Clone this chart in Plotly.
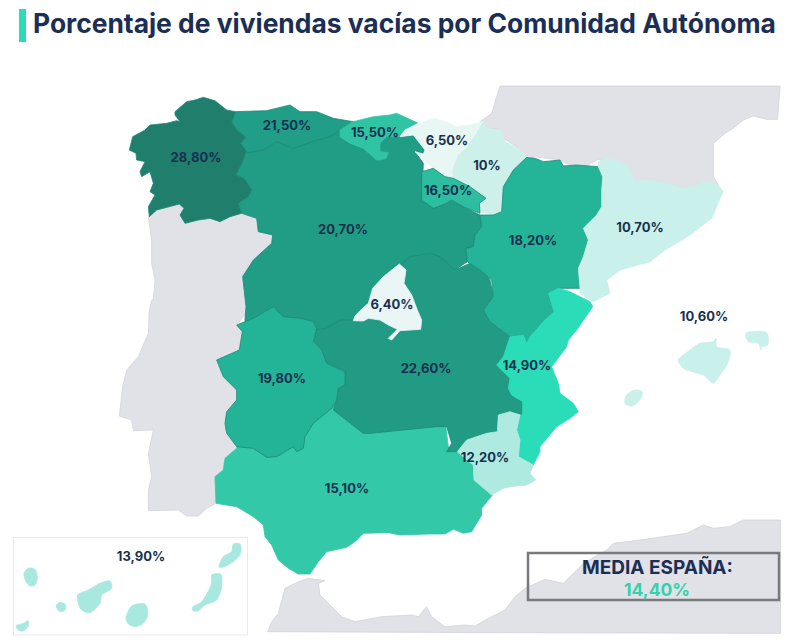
import plotly.graph_objects as go

# ---- chart data ----
regions = ["Andalucía", "Castilla y León", "Castilla-La Mancha", "Asturias", "Cantabria", "Galicia", "País Vasco",
           "Navarra", "La Rioja", "Aragón", "Cataluña", "C. Valenciana", "Extremadura",
           "Murcia", "Madrid", "Baleares", "Canarias"]
values = [15.1, 20.7, 22.6, 21.5, 15.5, 28.8, 6.5, 10.0, 16.5, 18.2, 10.7, 14.9, 19.8, 12.2, 6.4, 10.6, 13.9]
colors = ["#33c8a8", "#219c85", "#229b84", "#209e87", "#2fc4a4", "#1f7e6c", "#e8f6f4", "#cdf0ea", "#2dbd9f", "#24b498",
          "#c9f0ea", "#2bdcb8", "#23b396", "#aeeae0", "#eaf6f5", "#c9f0ea", "#a9e8de"]
label_x = [347, 343, 426, 287, 375, 196, 447, 487, 448, 533, 640, 527, 282, 485, 392, 704, 141]
label_y = [490, 231, 370, 127, 134, 159, 142, 167, 192, 242, 229, 367, 380, 459, 306, 318, 558]
title_text = "Porcentaje de viviendas vacías por Comunidad Autónoma"
mean_title = "MEDIA ESPAÑA:"
mean_value = 14.4

def Z(ox, oy, pts):
    return [(ox + a / 3, oy + b / 3) for a, b in pts]

portugal = Z(120, 80, [(85,410),(110,390),(150,380),(178,372),(192,385),(180,405),(195,430),(235,420),(270,415),(300,425),(330,410),(365,400),(410,415),(415,455),(458,465),(455,490),(400,540),(368,590),(378,680),(375,720)]) + \
    Z(110, 300, [(408,40),(380,75),(397,95),(388,150),(320,180),(340,230),(380,270),(380,300),(350,340),(345,400),(380,440),(380,462),(345,475),(340,510),(315,530),(318,610),(290,625),(265,648),(230,648),(205,630),(115,632),(115,570),(125,530),(115,460),(130,390),(70,392),(65,360),(28,348),(38,260),(50,210),(85,170),(115,100),(118,30),(125,0)]) + \
    Z(120, 80, [(100,660),(105,600),(95,550),(95,480)])
france = Z(480, 70, [(60,48),(900,48),(893,148),(860,148),(820,138),(790,150),(760,175),(735,190),(700,220),(700,320),(715,345),(670,345),(610,355),(560,340),(500,328),(465,340),(440,290),(355,268),(310,292),(270,285),(240,270),(150,260),(125,255),(110,230),(70,205),(55,178),(15,175),(0,155),(35,130),(50,80)])
africa = Z(255, 490, [(38,425),(50,395),(70,370),(90,295),(130,275),(160,265),(210,272),(190,280),(195,315),(230,350),(260,380),(300,395),(380,380),(470,375),(490,380),(515,350),(530,380),(570,410),(630,405),(660,408),(700,385),(750,360),(780,320),(810,295)]) + \
    Z(500, 300, [(110,850),(135,838),(190,850),(250,790),(320,750),(340,730),(420,720),(520,705),(560,700),(610,675),(640,685),(690,680),(730,660),(842,660),(842,1000),(0,998)])

andalucia = Z(110, 300, [(390,420),(380,445),(345,475),(340,510),(315,530),(318,610),(380,620),(430,650)]) + \
    Z(255, 490, [(25,105),(30,140),(50,165),(70,210),(100,235),(130,252),(165,252),(190,215),(215,185),(275,172),(300,155),(325,130),(400,128),(435,135),(520,132),(570,132),(595,118),(625,130),(650,125),(680,75),(680,55),(712,15)]) + \
    Z(370, 280, [(312,600),(310,555),(262,515),(235,500),(225,420),(100,430),(0,440)]) + \
    [(335, 402), (300, 415)]
cyl = Z(120, 80, [(380,218),(365,250),(348,285),(372,295),(395,330),(385,350),(355,370),(365,400),(410,415),(415,455),(458,465),(455,490),(400,540),(368,590),(378,680),(375,720)]) + \
    [(245, 335), (345, 335), (430, 300)] + \
    Z(380, 80, [(225,570),(262,545),(258,505),(280,500),(285,465),(305,440),(300,405),(250,380),(215,360),(200,370),(160,385),(125,360),(130,250),(105,215),(130,222),(135,210),(120,190),(100,165),(60,170),(20,170),(0,190)]) + \
    Z(120, 80, [(770,240),(730,205),(690,190),(660,170),(660,150),(630,170),(590,180),(520,205),(470,185),(430,210)])
clm = Z(110, 300, [(620,85),(610,125),(635,150),(650,190),(705,215),(705,255),(685,265),(680,300),(670,330),(710,360),(760,400)]) + \
    Z(370, 280, [(0,460),(100,450),(200,440),(230,440),(245,490),(230,515),(262,515),(290,480),(350,460),(382,455),(385,405),(420,395),(458,405),(458,365),(425,345),(415,325),(420,295),(380,255),(400,230),(420,170),(360,125),(340,90),(370,50),(360,0)]) + \
    Z(300, 240, [(545,85),(510,70),(465,90),(420,50),(390,40),(330,50),(300,75),(290,180),(170,225),(160,240),(120,240),(80,265),(40,270)])
asturias = Z(120, 80, [(347,95),(440,92),(510,75),(540,95),(590,95),(640,115),(700,125),(660,150),(630,170),(590,180),(520,205),(470,185),(430,210),(380,218),(362,190),(378,172),(350,150),(335,125)])
cantabria = Z(120, 80, [(660,150),(700,125),(760,110),(810,105)]) + \
    Z(380, 80, [(50,100),(115,130),(75,150),(60,168),(20,170),(0,190),(0,215),(25,218),(18,235),(0,240)]) + \
    Z(120, 80, [(770,240),(730,205),(690,190),(660,170)])
galicia = Z(120, 80, [(165,95),(200,65),(225,60),(250,52),(285,62),(320,90),(347,95),(335,125),(350,150),(378,172),(362,190),(380,215),(365,250),(348,285),(372,295),(395,330),(385,350),(355,370),(365,400),(330,410),(300,425),(270,415),(235,420),(195,430),(180,405),(192,385),(178,372),(150,380),(110,390),(88,410),(85,380),(105,345),(90,335),(100,310),(90,275),(65,290),(60,275),(75,245),(50,240),(48,220),(28,210),(38,170),(75,150),(90,135),(140,130),(170,122),(180,125),(165,105)])
pais_vasco = Z(380, 80, [(75,150),(115,130),(165,115),(195,125),(230,140),(270,135),(310,125),(290,160),(260,205),(235,225),(218,270),(220,295),(195,290),(160,265),(105,215),(130,222),(135,210),(120,190),(100,165),(60,170)])
navarra = Z(380, 80, [(310,125),(320,145),(360,150),(375,185),(415,205),(440,232),(400,270),(370,320),(365,395),(340,405),(300,395),(298,370),(318,355),(270,320),(220,295),(218,270),(235,225),(260,205),(290,160)])
rioja = Z(380, 80, [(125,275),(160,265),(195,290),(220,295),(270,320),(318,355),(298,370),(300,400),(250,380),(215,360),(200,370),(160,385),(125,360)])
aragon = Z(380, 80, [(440,232),(465,235),(490,245),(540,240),(550,258),(590,255),(655,260),(668,290),(665,330),(665,380),(650,405),(610,445),(625,480),(610,530),(595,565),(600,625)]) + \
    Z(370, 280, [(565,25),(535,40),(552,95),(520,125),(480,170),(470,190),(460,165),(420,170),(360,125),(340,90),(370,50),(365,0)]) + \
    Z(380, 80, [(300,570),(262,545),(258,505),(280,500),(285,465),(305,440),(300,405),(340,405),(365,395),(370,320),(400,270)])
catalunya = Z(380, 80, [(655,245),(680,235),(700,240),(745,260),(765,305),(800,300)]) + \
    Z(480, 70, [(465,340),(500,328),(560,340),(610,355),(660,345),(670,333),(710,340),(730,365),(720,385)]) + \
    [(712, 218), (690, 235), (665, 250)] + \
    Z(380, 80, [(810,545),(720,570),(680,600),(690,640),(640,665),(600,640),(600,625),(595,565),(610,530),(625,480),(610,445),(650,405),(665,380),(665,330),(668,290),(655,260)])
valencia = Z(370, 280, [(535,40),(565,25),(600,35),(660,65),(668,80),(620,150),(595,180),(590,200),(560,240),(545,260),(565,310),(570,340),(610,370),(625,395),(600,415),(560,440),(510,500),(510,515),(490,555),(445,530),(450,480),(440,450),(450,405),(458,405),(458,365),(425,345),(415,325),(420,295),(380,255),(400,230),(420,170),(460,165),(470,190),(480,170),(520,125),(552,95)])
extremadura = Z(110, 300, [(380,75),(430,55),(490,20),(520,50),(575,55),(610,65),(620,85),(610,125),(635,150),(650,190),(705,215),(705,255),(685,265),(680,300),(665,325),(610,370),(585,410),(580,445),(560,455),(550,440),(500,470),(470,472),(430,445),(380,440),(350,400),(345,370),(350,335),(380,300),(380,270),(340,230),(320,180),(388,150),(397,95)])
murcia = Z(370, 280, [(262,515),(290,480),(350,460),(382,455),(385,405),(420,395),(450,405),(440,450),(450,480),(445,530),(490,555),(480,580),(497,600),(470,615),(420,620),(400,625),(365,645),(312,600),(310,555)])
madrid = Z(300, 240, [(298,72),(318,90),(312,130),(335,165),(352,210),(365,240),(362,268),(300,272),(275,300),(265,295),(292,268),(265,255),(240,240),(205,235),(190,243),(160,242),(165,228),(180,212),(205,190),(218,145),(250,110)])
mallorca = Z(500, 300, [(535,180),(570,150),(600,130),(640,125),(648,115),(650,140),(690,150),(685,185),(660,225),(640,250),(610,225),(575,215),(550,205)])
menorca = Z(500, 300, [(737,100),(800,98),(803,135),(785,140),(783,150),(775,130),(745,125)])
ibiza = Z(500, 300, [(375,310),(380,285),(405,270),(427,275),(420,300),(395,318)])
la_palma = Z(0, 520, [(72,160),(85,145),(105,148),(112,175),(105,195),(90,198),(78,185)])
tenerife = Z(0, 520, [(233,225),(265,210),(300,190),(330,183),(335,205),(305,225),(300,250),(270,278),(245,270),(235,250)])
gomera = Z(0, 520, [(168,258),(180,247),(197,255),(195,270),(180,275)])
hierro = Z(0, 520, [(48,318),(70,310),(85,302),(85,318),(70,333),(55,330)])
gran_canaria = Z(0, 520, [(378,295),(395,258),(435,252),(443,285),(430,310),(405,320),(385,312)])
fuerteventura = Z(0, 520, [(577,262),(605,245),(635,190),(635,165),(662,162),(665,200),(650,240),(615,255),(595,272),(580,273)])
lanzarote = Z(0, 520, [(657,140),(670,110),(695,95),(700,72),(720,72),(722,100),(700,125),(665,142)])

outlines = [[andalucia], [cyl], [clm], [asturias], [cantabria], [galicia], [pais_vasco], [navarra], [rioja], [aragon],
            [catalunya], [valencia], [extremadura], [murcia], [madrid],
            [mallorca, menorca, ibiza],
            [la_palma, tenerife, gomera, hierro, gran_canaria, fuerteventura, lanzarote]]

def xy(polys):
    xs, ys = [], []
    for p in polys:
        xs += [q[0] for q in p] + [p[0][0], None]
        ys += [q[1] for q in p] + [p[0][1], None]
    return xs, ys

def pct(v):
    return (f"{v:.0f}%" if v == int(v) else f"{v:.2f}%").replace(".", ",")

FONT = "Inter"
NAVY = "#1b2e55"
fig = go.Figure()

for name, polys in [("Portugal", [portugal]), ("Francia", [france]), ("África", [africa])]:
    x, y = xy(polys)
    fig.add_trace(go.Scatter(x=x, y=y, mode="lines", fill="toself", fillcolor="#e0e2e7",
                             line=dict(color="#d2d4da", width=0.8), name=name, hoverinfo="skip"))

for name, polys, col, val in zip(regions, outlines, colors, values):
    x, y = xy(polys)
    edge = "#1c8a76" if val > 16 else col
    shape = "spline" if name in ("Baleares", "Canarias") else "linear"
    fig.add_trace(go.Scatter(x=x, y=y, mode="lines", fill="toself", fillcolor=col,
                             line=dict(color=edge, width=0.8, shape=shape, smoothing=0.8), name=name,
                             hoverinfo="text", text=f"{name}: {pct(val)}"))

fig.add_trace(go.Scatter(x=label_x, y=label_y, mode="text", text=[pct(v) for v in values],
                         textposition="middle center",
                         textfont=dict(family=FONT, size=13, color="#17304f", weight=700),
                         hoverinfo="skip"))

fig.add_shape(type="rect", x0=19, x1=26, y0=9, y1=42, fillcolor="#2bdcb8", line_width=0)
fig.add_shape(type="rect", x0=13.5, x1=247.5, y0=537.5, y1=635, fillcolor="rgba(0,0,0,0)",
              line=dict(color="#e9e9ec", width=1))
fig.add_shape(type="rect", x0=528, x1=779, y0=553, y1=600, fillcolor="rgba(0,0,0,0)",
              line=dict(color="#77797d", width=2.5))

fig.add_annotation(x=31, y=23, xanchor="left", yanchor="middle", text=title_text, showarrow=False,
                   font=dict(family=FONT, size=26.4, color=NAVY, weight=700))
fig.add_annotation(x=657, y=567, text=mean_title, showarrow=False,
                   font=dict(family=FONT, size=19, color=NAVY, weight=700))
fig.add_annotation(x=657, y=589, text=pct(mean_value), showarrow=False,
                   font=dict(family=FONT, size=17.5, color="#35d0ae", weight=700))

fig.update_layout(width=795, height=643, margin=dict(l=0, r=0, t=0, b=0), showlegend=False,
                  paper_bgcolor="white", plot_bgcolor="white",
                  xaxis=dict(range=[0, 795], visible=False, fixedrange=True),
                  yaxis=dict(range=[643, 0], visible=False, fixedrange=True))
fig.write_html("out.html", config={"displayModeBar": False},
               post_script="document.documentElement.style.overflow='hidden';document.body.style.margin='0';")
